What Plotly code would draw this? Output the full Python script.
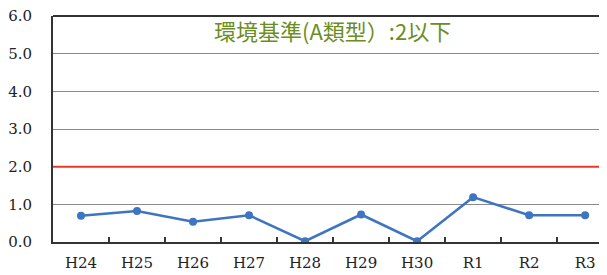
import plotly.graph_objects as go

years = ["H24", "H25", "H26", "H27", "H28", "H29", "H30", "R1", "R2", "R3"]
values = [0.70, 0.82, 0.54, 0.71, 0.02, 0.73, 0.02, 1.19, 0.71, 0.71]
standard_value = 2.0
y_ticks = [0, 1, 2, 3, 4, 5, 6]
y_tick_labels = ["0.0", "1.0", "2.0", "3.0", "4.0", "5.0", "6.0"]
title_text = "環境基準(A類型）:2以下"

serif = "DejaVu Serif"

fig = go.Figure()
fig.add_trace(go.Scatter(
    x=years, y=values, mode="lines+markers",
    line=dict(color="#3f74c0", width=2.5),
    marker=dict(color="#3f74c0", size=8),
    showlegend=False,
))

# standard line
fig.add_shape(type="line", xref="paper", yref="y", x0=0, x1=1,
              y0=standard_value, y1=standard_value,
              line=dict(color="#e8382a", width=2), layer="above")
# top border
fig.add_shape(type="line", xref="paper", yref="paper", x0=0, x1=1, y0=1, y1=1,
              line=dict(color="#333333", width=2))

fig.add_annotation(text=title_text, xref="paper", yref="paper", x=0.505, y=0.938,
                   showarrow=False, xanchor="center", yanchor="middle",
                   font=dict(family="Noto Sans CJK JP", size=22, color="#6b8e23"))

# page body has an 8px margin, so the figure is offset by 8px
fig.update_layout(
    width=599, height=267,
    margin=dict(l=45, r=0, t=8, b=33),
    paper_bgcolor="white", plot_bgcolor="white",
    font=dict(family=serif, size=15, color="#222222"),
)
fig.update_xaxes(
    type="category", range=[-0.5, 9.39], automargin=False,
    showline=True, linecolor="#333333", linewidth=2,
    ticks="inside", tickson="boundaries", ticklen=5, tickcolor="#333333", tickwidth=1.5,
    showgrid=False, ticklabelstandoff=6,
    tickfont=dict(family=serif, size=15, color="#222222"),
)
fig.update_yaxes(
    range=[0, 6], tickvals=y_ticks, ticktext=y_tick_labels, automargin=False,
    showline=True, linecolor="#333333", linewidth=2,
    showgrid=True, gridcolor="#8a8a8a", gridwidth=1,
    zeroline=False, ticks="", ticklabelstandoff=16, ticklabeloverflow="allow",
    tickfont=dict(family=serif, size=15, color="#222222"),
)

fig.write_html("out.html")
